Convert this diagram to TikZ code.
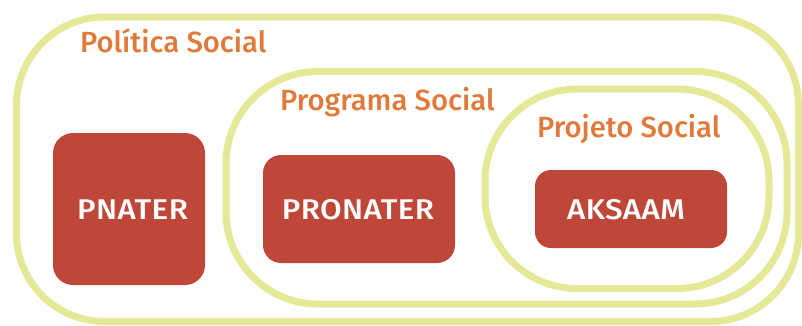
\documentclass[tikz,border=0pt]{standalone}
\usepackage{fontspec}
\setmainfont{Fira Sans}[UprightFont=* Medium]
\newfontfamily\capsfont{Fira Sans}[UprightFont=* Medium,FakeStretch=1.1,LetterSpace=1.5]
\definecolor{ringline}{HTML}{E4E897}
\definecolor{boxred}{HTML}{BF4739}
\definecolor{labelorange}{HTML}{E07A3B}
\begin{document}
\begin{tikzpicture}[x=1pt,y=-1pt,
  ring/.style={draw=ringline,line width=7pt},
  redbox/.style={fill=boxred,draw=none},
  ringlabel/.style={text=labelorange,font=\fontsize{29.2}{31}\selectfont,anchor=base west,inner sep=0pt},
  boxlabel/.style={text=white,font=\capsfont\fontsize{28.5}{30}\selectfont,inner sep=0pt,anchor=base}]
\useasboundingbox (0,0) rectangle (802,325);
\begin{scope}
\clip (0,0) rectangle (802,325);
% nested scopes
\draw[ring,rounded corners=88pt] (16.5,17) rectangle (798.5,321.5);
\draw[ring,rounded corners=92pt] (226,71.5) rectangle (787,304);
\draw[ring,rounded corners=92pt] (485,89) rectangle (769,288.5);
\end{scope}
% scope labels
\node[ringlabel] (lpol) at (80,52) {Política Social};
\node[ringlabel] (lprog) at (280,110) {Programa Social};
\node[ringlabel] (lproj) at (537,137) {Projeto Social};
% programme boxes
\draw[redbox,rounded corners=20pt] (53,133) rectangle (205,285);
\node[boxlabel] (pnater) at (132.5,219) {PNATER};
\draw[redbox,rounded corners=18pt] (263,155) rectangle (455,263);
\node[boxlabel] (pronater) at (358,219.5) {PRONATER};
\draw[redbox,rounded corners=16pt] (535,170) rectangle (727,248);
\node[boxlabel] (aksaam) at (626,219) {AKSAAM};
\end{tikzpicture}
\end{document}
